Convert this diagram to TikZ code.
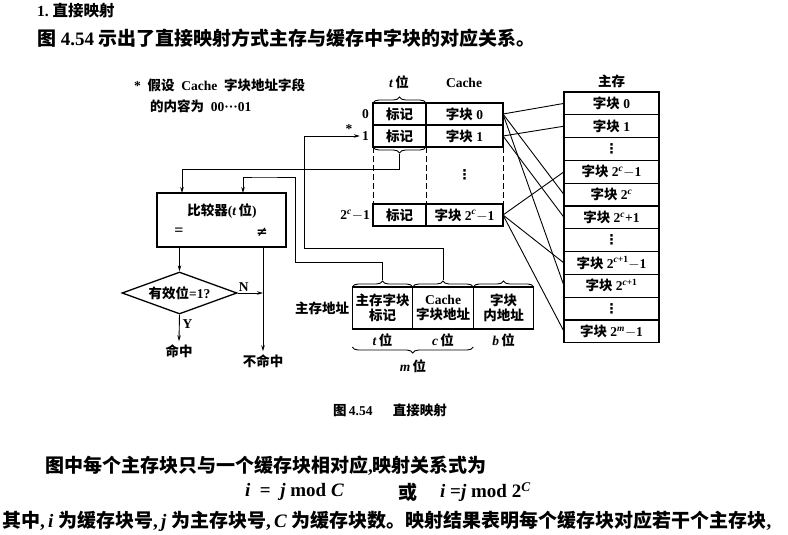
\documentclass[tikz,border=0pt]{standalone}
\usepackage{fontspec}
\setmainfont{Liberation Serif}
\newfontfamily\zh{Noto Sans CJK SC}
\newfontfamily\symf{DejaVu Sans}
\usetikzlibrary{
  shapes.geometric,
  arrows.meta,
  positioning,
  decorations.pathreplacing
}
\newcommand{\dgmfont}{\fontsize{13.5}{15}\selectfont\bfseries}
\newcommand{\bodyfont}{\fontsize{19}{22}\selectfont\bfseries}
\newcommand{\vdotsym}{{\symf\bfseries ⋮}}
\tikzset{
  cell/.style={rectangle,draw=black,line width=1.3pt,inner sep=0pt,outer sep=0pt,align=center,font=\dgmfont},
  tagcell/.style={cell,minimum width=53pt,minimum height=22pt},
  datacell/.style={cell,minimum width=77pt,minimum height=22pt},
  memcell/.style={cell,minimum width=95pt,minimum height=22.8pt},
  fieldcell/.style={cell,minimum width=60.5pt,minimum height=42pt},
  lbl/.style={inner sep=0pt,font=\dgmfont},
  txt/.style={inner sep=0pt,anchor=west,font=\bodyfont},
  wire/.style={line width=0.9pt},
  arr/.style={wire,-{Stealth[length=6pt,width=3.5pt]}},
  brc/.style={decorate,decoration={brace,amplitude=6pt},line width=0.9pt}
}

\begin{document}
\begin{tikzpicture}[x=1pt,y=-1pt]
  \useasboundingbox (0,0) rectangle (788,535);

  % text of the page above the figure
  \node[txt,font=\fontsize{15.5}{18}\selectfont\bfseries] (head) at (37,11) {1.\ {\zh 直接映射}};
  \node[txt] (intro) at (37,38) {{\zh 图} 4.54 {\zh 示出了直接映射方式主存与缓存中字块的对应关系。}};
  \node[lbl,anchor=west] (note1) at (134,85) {*\ \ {\zh 假设}\ \ Cache\ \ {\zh 字块地址字段}};
  \node[lbl,anchor=west] (note2) at (150,106) {{\zh 的内容为}\ \ 00···01};

  % cache
  \node[tagcell] (tag0) at (399.5,114) {{\zh 标记}};
  \node[datacell,right=0pt of tag0] (dat0) {{\zh 字块}\ 0};
  \node[tagcell,below=0pt of tag0] (tag1) {{\zh 标记}};
  \node[datacell,right=0pt of tag1] (dat1) {{\zh 字块}\ 1};
  \node[tagcell] (tagN) at (399.5,215) {{\zh 标记}};
  \node[datacell,right=0pt of tagN] (datN) {{\zh 字块}\ 2\textsuperscript{\textit{c}}$-$1};
  \draw[wire,dash pattern=on 6pt off 3pt] (tag1.south west) -- (tagN.north west);
  \draw[wire,dash pattern=on 6pt off 3pt] (tag1.south east) -- (tagN.north east);
  \draw[wire,dash pattern=on 6pt off 3pt] (dat1.south east) -- (datN.north east);
  \node[lbl] (cdots) at (464.5,175) {\vdotsym};
  \node[lbl,left=4pt of tag0] (row0) {0};
  \node[lbl,left=4pt of tag1] (row1) {1};
  \node[lbl,left=3pt of tagN] (rowN) {2\textsuperscript{\textit{c}}$-$1};
  \node[lbl] (star) at (349,129) {*};
  \node[lbl] (tbits) at (399,82) {\textit{t}\,{\zh 位}};
  \node[lbl] (cachettl) at (464,83) {Cache};
  \draw[brc] (tag0.north west) -- (tag0.north east);
  \draw[brc] (tag1.south east) -- (tag1.south west);
  \coordinate (tagtip) at ([yshift=-7pt]tag1.south);

  % main memory
  \node[lbl] (memttl) at (611.5,81) {{\zh 主存}};
  \node[memcell] (m0) at (611.5,103.4) {{\zh 字块}\ 0};
  \node[memcell,below=0pt of m0] (m1) {{\zh 字块}\ 1};
  \node[memcell,below=0pt of m1] (m2) {\vdotsym};
  \node[memcell,below=0pt of m2] (m3) {{\zh 字块}\ 2\textsuperscript{\textit{c}}$-$1};
  \node[memcell,below=0pt of m3] (m4) {{\zh 字块}\ 2\textsuperscript{\textit{c}}};
  \node[memcell,below=0pt of m4] (m5) {{\zh 字块}\ 2\textsuperscript{\textit{c}}+1};
  \node[memcell,below=0pt of m5] (m6) {\vdotsym};
  \node[memcell,below=0pt of m6] (m7) {{\zh 字块}\ 2\textsuperscript{\textit{c}+1}$-$1};
  \node[memcell,below=0pt of m7] (m8) {{\zh 字块}\ 2\textsuperscript{\textit{c}+1}};
  \node[memcell,below=0pt of m8] (m9) {\vdotsym};
  \node[memcell,below=0pt of m9] (m10) {{\zh 字块}\ 2\textsuperscript{\textit{m}}$-$1};

  \draw[wire] (dat0.east) -- (m0.west);
  \draw[wire] (dat0.east) -- (m4.west);
  \draw[wire] (dat0.east) -- (m8.west);
  \draw[wire] (dat1.east) -- (m1.west);
  \draw[wire] (dat1.east) -- (m5.west);
  \draw[wire] (datN.east) -- (m3.west);
  \draw[wire] (datN.east) -- (m7.west);
  \draw[wire] (datN.east) -- (m10.west);

  % comparator and hit test
  \node[cell,minimum width=129pt,minimum height=54pt] (cmp) at (221.5,220) {};
  \node[lbl] (cmpname) at (222,211) {{\zh 比较器}(\textit{t}\,{\zh 位})};
  \node[lbl,font=\fontsize{16}{16}\selectfont\bfseries] (eq) at (179,232) {=};
  \node[lbl] (ne) at (262,232) {{\symf ≠}};
  \node[diamond,draw,line width=1.3pt,aspect=2.74,minimum width=115pt,minimum height=42pt,
        inner sep=0pt,font=\dgmfont] (valid) at (179.5,293) {{\zh 有效位}=1?};
  \node[lbl,inner sep=3pt] (hit) at (179,351) {{\zh 命中}};
  \node[lbl,inner sep=3pt] (miss) at (263,361) {{\zh 不命中}};

  \draw[arr] (cmp.south -| valid.north) -- (valid.north);
  \draw[arr] (valid.south) -- (hit.north);
  \draw[arr] (cmp.south -| miss.north) -- (miss.north);
  \draw[arr] (valid.east) -- (valid.east -| miss.north);
  \node[lbl,anchor=south west] (nlbl) at ([xshift=1pt,yshift=1pt]valid.east) {N};
  \node[lbl,anchor=west] (ylbl) at ([xshift=3pt,yshift=-9pt]valid.south) {Y};

  % main memory address
  \node[fieldcell] (ftag) at (382.5,308) {{\zh 主存字块}\\{\zh 标记}};
  \node[fieldcell,right=0pt of ftag] (fcache) {Cache\\{\zh 字块地址}};
  \node[fieldcell,right=0pt of fcache] (foff) {{\zh 字块}\\{\zh 内地址}};
  \node[lbl,left=3pt of ftag] (addr) {{\zh 主存地址}};
  \draw[brc] (ftag.north west) -- (ftag.north east);
  \draw[brc] (fcache.north west) -- (fcache.north east);
  \draw[brc] (foff.north west) -- (foff.north east);
  \coordinate (ftagtip) at ([yshift=7pt]ftag.north);
  \coordinate (fcachetip) at ([yshift=7pt]fcache.north);
  \node[lbl] (tw) at ([yshift=-11pt]ftag.south) {\textit{t}\,{\zh 位}};
  \node[lbl] (cw) at ([yshift=-11pt]fcache.south) {\textit{c}\,{\zh 位}};
  \node[lbl] (bw) at ([yshift=-11pt]foff.south) {\textit{b}\,{\zh 位}};
  \draw[brc] ([yshift=-18pt]fcache.south east) -- ([yshift=-18pt]ftag.south west);
  \node[lbl] (mw) at (413,366) {\textit{m}\,{\zh 位}};

  % connectors into comparator and cache
  \draw[arr] (tagtip) -- ++(0,15) -| ([xshift=25pt]cmp.north west);
  \draw[arr] (ftagtip) |- (295,262) |- (260,177) -| ([xshift=86pt]cmp.north west);
  \draw[arr,shorten >=2pt] (fcachetip) |- (304,248) |- (row1.west);

  % text of the page below the figure
  \node[lbl,font=\fontsize{13.5}{15}\selectfont\bfseries] (caption) at (390,410) {{\zh 图}\,4.54\quad\ \ {\zh 直接映射}};
  \node[txt] (para) at (45,466) {{\zh 图中每个主存块只与一个缓存块相对应},{\zh 映射关系式为}};
  \node[txt] (eq1) at (245,492) {\textit{i}\ \ =\ \ \textit{j}\ mod\ \textit{C}};
  \node[txt] (orword) at (398,492) {{\zh 或}};
  \node[txt] (eq2) at (440,492) {\textit{i}\ =\textit{j}\ mod\ 2\textsuperscript{\textit{C}}};
  \node[txt] (last) at (2,521) {{\zh 其中},\,\textit{i}\ {\zh 为缓存块号},\,\textit{j}\ {\zh 为主存块号},\,\textit{C}\ {\zh 为缓存块数。映射结果表明每个缓存块对应若干个主存块},};
\end{tikzpicture}
\end{document}
